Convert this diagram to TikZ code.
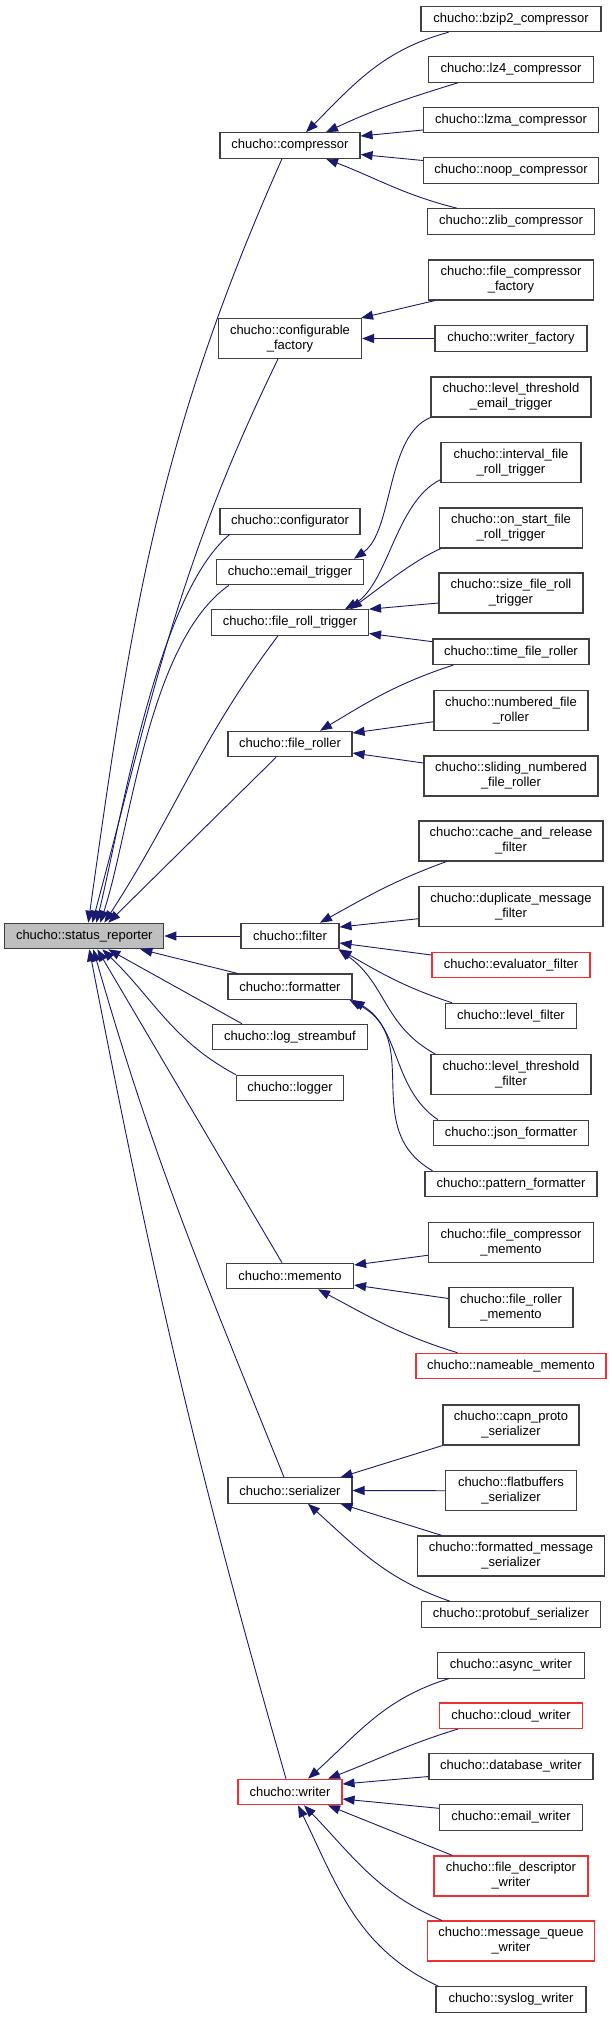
\documentclass[tikz,border=0pt]{standalone}
\usepackage{fontspec}
\setmainfont{Liberation Sans}
\usepackage{xcolor}
\usepackage{tikz}
\usetikzlibrary{arrows.meta, positioning, shapes}

\definecolor{edgeblue}{HTML}{191970}
\definecolor{boxgray}{HTML}{404040}
\definecolor{boxred}{HTML}{F03030}
\definecolor{basegray}{HTML}{BFBFBF}

\begin{document}
\begin{tikzpicture}[
x=1pt, y=1pt,
cls/.style={
rectangle,
draw=boxgray,
line width=1.1pt,
fill=white,
inner sep=0pt,
minimum height=25.5pt,
align=center,
font=\fontsize{13}{15}\selectfont
},
cls2/.style={cls, minimum height=40pt},
redcls/.style={draw=boxred},
edge/.style={draw=edgeblue, line width=0.9pt, -{Triangle[length=12pt,width=9pt]}}
]

\useasboundingbox (0,0) rectangle (611,-2019);

% Base class
\node[cls,fill=basegray,minimum width=159pt] (status) at (84.3,-936) {chucho::status\_reporter};

% Middle column
\node[cls,minimum width=140pt] (compressor) at (290,-145.5) {chucho::compressor};
\node[cls2,minimum width=143pt] (cfgfactory) at (290,-338.5) {chucho::configurable\\\_factory};
\node[cls,minimum width=140pt] (configurator) at (290,-521.3) {chucho::configurator};
\node[cls,minimum width=147pt] (emailtrig) at (290,-572) {chucho::email\_trigger};
\node[cls,minimum width=157pt] (rolltrig) at (290,-622.5) {chucho::file\_roll\_trigger};
\node[cls,minimum width=124pt] (roller) at (290,-744) {chucho::file\_roller};
\node[cls,minimum width=98pt] (filter) at (290,-936) {chucho::filter};
\node[cls,minimum width=124pt] (formatter) at (290,-986.7) {chucho::formatter};
\node[cls,minimum width=155pt] (streambuf) at (290,-1037) {chucho::log\_streambuf};
\node[cls,minimum width=107pt] (logger) at (290,-1088) {chucho::logger};
\node[cls,minimum width=127pt] (memento) at (290,-1276) {chucho::memento};
\node[cls,minimum width=124pt] (serializer) at (290,-1490.5) {chucho::serializer};
\node[cls,redcls,minimum width=104pt] (writer) at (290,-1792) {chucho::writer};

% Compressors
\node[cls,minimum width=180pt] (bzip2) at (511,-19) {chucho::bzip2\_compressor};
\node[cls,minimum width=165pt] (lz4) at (511,-69.5) {chucho::lz4\_compressor};
\node[cls,minimum width=175pt] (lzma) at (511,-120) {chucho::lzma\_compressor};
\node[cls,minimum width=175pt] (noop) at (511,-170.5) {chucho::noop\_compressor};
\node[cls,minimum width=167pt] (zlib) at (511,-221.5) {chucho::zlib\_compressor};

% Factories
\node[cls2,minimum width=165pt] (fcfactory) at (511,-280) {chucho::file\_compressor\\\_factory};
\node[cls,minimum width=152pt] (wfactory) at (511,-338.5) {chucho::writer\_factory};

% Triggers and rollers
\node[cls2,minimum width=160pt] (ltemail) at (511,-397) {chucho::level\_threshold\\\_email\_trigger};
\node[cls2,minimum width=140pt] (intervaltrig) at (511,-462.7) {chucho::interval\_file\\\_roll\_trigger};
\node[cls2,minimum width=143pt] (onstarttrig) at (511,-528) {chucho::on\_start\_file\\\_roll\_trigger};
\node[cls2,minimum width=144pt] (sizetrig) at (511,-593) {chucho::size\_file\_roll\\\_trigger};
\node[cls,minimum width=156pt] (timeroller) at (511,-651.7) {chucho::time\_file\_roller};
\node[cls2,minimum width=154pt] (numroller) at (511,-710.7) {chucho::numbered\_file\\\_roller};
\node[cls2,minimum width=174pt] (slidroller) at (511,-776) {chucho::sliding\_numbered\\\_file\_roller};

% Filters and formatters
\node[cls2,minimum width=184pt] (cachefilter) at (511,-841) {chucho::cache\_and\_release\\\_filter};
\node[cls2,minimum width=184pt] (dupfilter) at (511,-906.7) {chucho::duplicate\_message\\\_filter};
\node[cls,redcls,minimum width=158pt] (evalfilter) at (511,-965) {chucho::evaluator\_filter};
\node[cls,minimum width=131pt] (levelfilter) at (511,-1016) {chucho::level\_filter};
\node[cls2,minimum width=160pt] (ltfilter) at (511,-1074.7) {chucho::level\_threshold\\\_filter};
\node[cls,minimum width=155pt] (jsonfmt) at (511,-1133) {chucho::json\_formatter};
\node[cls,minimum width=172pt] (patternfmt) at (511,-1184) {chucho::pattern\_formatter};

% Mementos
\node[cls2,minimum width=165pt] (fcmemento) at (511,-1242.7) {chucho::file\_compressor\\\_memento};
\node[cls2,minimum width=124pt] (frmemento) at (511,-1307.5) {chucho::file\_roller\\\_memento};
\node[cls,redcls,minimum width=190pt] (namememento) at (511,-1366) {chucho::nameable\_memento};

% Serializers
\node[cls2,minimum width=136pt] (capnser) at (511,-1425) {chucho::capn\_proto\\\_serializer};
\node[cls2,minimum width=131pt] (flatser) at (511,-1490.7) {chucho::flatbuffers\\\_serializer};
\node[cls2,minimum width=187pt] (fmtser) at (511,-1556) {chucho::formatted\_message\\\_serializer};
\node[cls,minimum width=179pt] (protoser) at (511,-1614.5) {chucho::protobuf\_serializer};

% Writers
\node[cls,minimum width=147pt] (asyncw) at (511,-1665.3) {chucho::async\_writer};
\node[cls,redcls,minimum width=143pt] (cloudw) at (511,-1715.7) {chucho::cloud\_writer};
\node[cls,minimum width=164pt] (dbw) at (511,-1766.5) {chucho::database\_writer};
\node[cls,minimum width=143pt] (emailw) at (511,-1817.3) {chucho::email\_writer};
\node[cls2,redcls,minimum width=154pt] (fdw) at (511,-1876) {chucho::file\_descriptor\\\_writer};
\node[cls2,redcls,minimum width=167pt] (mqw) at (511,-1941) {chucho::message\_queue\\\_writer};
\node[cls,minimum width=150pt] (syslogw) at (511,-1999.5) {chucho::syslog\_writer};

% Arrows to status_reporter
\draw[edge] ([xshift=-8pt]compressor.south) to[out=246,in=82] ([xshift=4pt]status.north);
\draw[edge] ([xshift=-12pt]cfgfactory.south) to[out=244,in=75] ([xshift=8pt]status.north);
\draw[edge] ([xshift=10pt]configurator.south west) to[out=220,in=76,looseness=0.6] ([xshift=12pt]status.north);
\draw[edge] ([xshift=13pt]emailtrig.south west) to[out=215,in=72,looseness=0.7] ([xshift=16pt]status.north);
\draw[edge] ([xshift=-12pt]rolltrig.south) to[out=233,in=57] ([xshift=20pt]status.north);
\draw[edge] ([xshift=-14pt]roller.south) -- ([xshift=24pt]status.north);
\draw[edge] (filter.west) -- (status.east);
\draw[edge] ([xshift=10pt]formatter.north west) -- ([xshift=-24pt]status.south east);
\draw[edge] ([xshift=30pt]streambuf.north west) -- ([xshift=24pt]status.south);
\draw[edge] (logger.north west) to[out=152,in=-44] ([xshift=18pt]status.south);
\draw[edge] ([xshift=-8pt]memento.north) -- ([xshift=13pt]status.south);
\draw[edge] ([xshift=-6pt]serializer.north) to[out=112,in=-74] ([xshift=9pt]status.south);
\draw[edge] ([xshift=-4pt]writer.north) to[out=106,in=-79] ([xshift=5pt]status.south);

% Arrows to compressor
\draw[edge] ([xshift=28pt]bzip2.south west) to[out=195,in=45] ([xshift=16pt]compressor.north);
\draw[edge] ([xshift=30pt]lz4.south west) to[out=197,in=25] ([xshift=36pt]compressor.north);
\draw[edge] ([yshift=-10pt]lzma.west) -- ([yshift=9.5pt]compressor.east);
\draw[edge] ([yshift=10pt]noop.west) -- ([yshift=-9pt]compressor.east);
\draw[edge] ([xshift=30pt]zlib.north west) to[out=166,in=-21] ([xshift=36pt]compressor.south);

% Arrows to configurable_factory
\draw[edge] ([xshift=7pt]fcfactory.south west) -- ([xshift=-1pt]cfgfactory.north east);
\draw[edge] (wfactory.west) -- (cfgfactory.east);

% Arrows to triggers and rollers
\draw[edge] (ltemail.south west) to[out=202,in=35,distance=48pt] ([xshift=-10pt]emailtrig.north east);
\draw[edge] ([yshift=-17pt]intervaltrig.west) to[out=206,in=30,distance=50pt] ([xshift=55pt]rolltrig.north);
\draw[edge] ([xshift=2pt]onstarttrig.south west) to[out=203,in=35,distance=30pt] ([xshift=60pt]rolltrig.north);
\draw[edge] ([yshift=-10pt]sizetrig.west) -- (rolltrig.north east);
\draw[edge] ([yshift=10pt]timeroller.west) -- ([yshift=-11pt]rolltrig.east);
\draw[edge] ([xshift=21pt]timeroller.south west) to[out=198,in=31] ([xshift=30pt]roller.north);
\draw[edge] ([yshift=-11pt]numroller.west) -- ([yshift=11pt]roller.east);
\draw[edge] ([yshift=13pt]slidroller.west) -- ([yshift=-9pt]roller.east);

% Arrows to filter and formatter
\draw[edge] ([xshift=28pt]cachefilter.south west) to[out=200,in=29] ([xshift=30pt]filter.north);
\draw[edge] ([yshift=-12pt]dupfilter.west) -- ([yshift=9pt]filter.east);
\draw[edge] ([yshift=10pt]evalfilter.west) -- ([yshift=-7pt]filter.east);
\draw[edge] ([xshift=7pt]levelfilter.north west) to[out=162,in=-30] (filter.south east);
\draw[edge] ([xshift=5pt]ltfilter.north west) to[out=151,in=-36,distance=60pt] ([xshift=-1pt]filter.south east);
\draw[edge] ([xshift=5pt]jsonfmt.north west) to[out=146,in=-30,distance=55pt] (formatter.south east);
\draw[edge] ([xshift=8pt]patternfmt.north west) to[out=150,in=-28,distance=85pt] ([xshift=-3pt]formatter.south east);

% Arrows to memento
\draw[edge] ([yshift=8pt]fcmemento.south west) -- ([yshift=11pt]memento.east);
\draw[edge] ([yshift=9pt]frmemento.west) -- ([yshift=-9pt]memento.east);
\draw[edge] ([xshift=42pt]namememento.north west) to[out=163,in=-28] ([xshift=28pt]memento.south);

% Arrows to serializer
\draw[edge] (capnser.south west) -- ([xshift=-12pt]serializer.north east);
\draw[edge] (flatser.west) -- (serializer.east);
\draw[edge] ([xshift=25pt]fmtser.north west) -- ([xshift=-12pt]serializer.south east);
\draw[edge] ([xshift=29pt]protoser.north west) to[out=161,in=-42] ([xshift=18pt]serializer.south);

% Arrows to writer
\draw[edge] ([xshift=12pt]asyncw.south west) to[out=197,in=42] ([xshift=18pt]writer.north);
\draw[edge] ([xshift=19pt]cloudw.south west) to[out=197,in=21] ([xshift=38pt]writer.north);
\draw[edge] ([yshift=-10pt]dbw.west) -- ([yshift=8pt]writer.east);
\draw[edge] ([yshift=9pt]emailw.west) -- ([yshift=-7pt]writer.east);
\draw[edge] ([xshift=19pt]fdw.north west) -- ([xshift=38pt]writer.south);
\draw[edge] ([xshift=15pt]mqw.north west) to[out=157,in=-46] ([xshift=14pt]writer.south);
\draw[edge] ([xshift=3pt]syslogw.north west) to[out=155,in=-64] ([xshift=8pt]writer.south);

\end{tikzpicture}
\end{document}
